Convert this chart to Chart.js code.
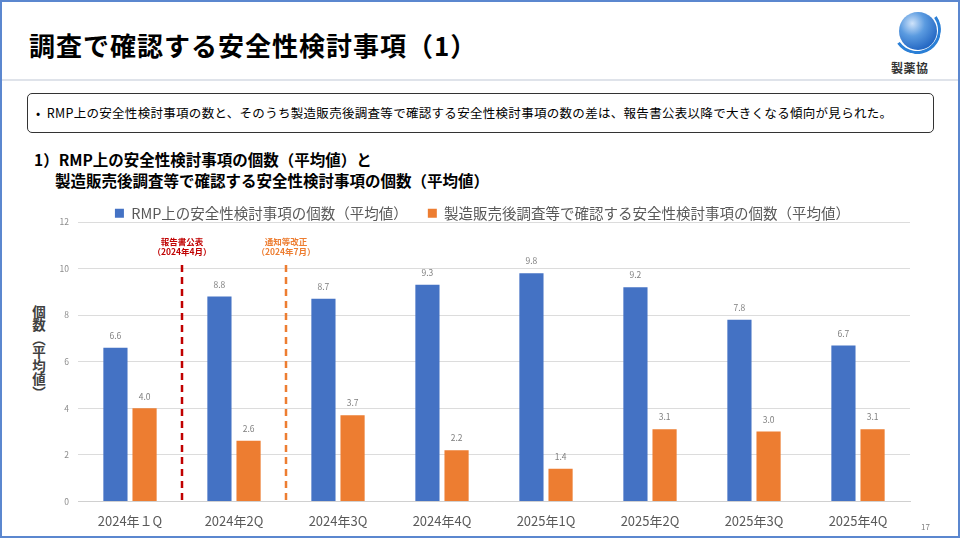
<!DOCTYPE html>
<html lang="ja">
<head>
<meta charset="utf-8">
<script src="https://cdn.jsdelivr.net/npm/chart.js@4.4.1/dist/chart.umd.min.js"></script>
<style>
  html, body { margin: 0; padding: 0; background: #fff; }
  body { width: 960px; height: 538px; position: relative; overflow: hidden; font-family: "Noto Sans CJK JP", sans-serif; color: #000; }
  .frame { position: absolute; left: 0; top: 0; width: 956px; height: 534px; border: 2px solid #5b87cf; pointer-events: none; }
  .title { position: absolute; left: 29px; top: 26px; font-size: 26px; font-weight: bold; letter-spacing: 1px; }
  .sep { position: absolute; left: 2px; right: 2px; top: 79px; height: 2px; background: #dfe3ea; }
  .logo { position: absolute; left: 893px; top: 8px; width: 50px; height: 48px; }
  .sphere { position: absolute; left: 6px; top: 4px; width: 38px; height: 38px; border-radius: 50%;
            background: radial-gradient(circle at 35% 30%, #cfe3fa 0%, #5b9be0 35%, #1f62c0 80%, #1a4f9e 100%); }
  .swoosh { position: absolute; left: 0px; top: -2px; width: 48px; height: 48px; border-radius: 50%;
            border: 3px solid transparent; border-bottom-color: #2a7fd6; border-right-color: #2a7fd6; transform: rotate(10deg); box-sizing: border-box; }
  .logotext { position: absolute; left: 891px; top: 59px; font-size: 12px; font-weight: bold; color: #333; letter-spacing: 0.5px; }
  .box { position: absolute; left: 27px; top: 93px; width: 905px; height: 38px; border: 1.5px solid #333; border-radius: 5px; }
  .box span { position: absolute; left: 8px; top: 9px; font-size: 12.5px; white-space: nowrap; letter-spacing: 0.3px; }
  .heading { position: absolute; font-size: 15.5px; font-weight: bold; white-space: nowrap; line-height: 21px; }
  .yname { position: absolute; left: 31px; top: 305px; writing-mode: vertical-rl; font-size: 13.5px; font-weight: bold; color: #404040; line-height: 16px; }
  .pageno { position: absolute; left: 921px; top: 521px; font-size: 8px; color: #7f7f7f; }
  #wrap { position: absolute; left: 0; top: 186px; width: 960px; height: 363px; }
</style>
</head>
<body>
<div class="title">調査で確認する安全性検討事項（1）</div>
<div class="logo"><div class="sphere"></div><div class="swoosh"></div></div>
<div class="logotext">製薬協</div>
<div class="sep"></div>
<div class="box"><span>•&nbsp;&nbsp;RMP上の安全性検討事項の数と、そのうち製造販売後調査等で確認する安全性検討事項の数の差は、報告書公表以降で大きくなる傾向が見られた。</span></div>
<div class="heading" style="left:34px; top:149px;">1）RMP上の安全性検討事項の個数（平均値）と</div>
<div class="heading" style="left:55px; top:170px;">製造販売後調査等で確認する安全性検討事項の個数（平均値）</div>
<div class="yname">個数（平均値）</div>
<div id="wrap"><canvas id="barChart"></canvas></div>
<div class="pageno">17</div>
<div class="frame"></div>
<script>
// data
const categories = ['2024年１Q', '2024年2Q', '2024年3Q', '2024年4Q', '2025年1Q', '2025年2Q', '2025年3Q', '2025年4Q'];
const rmpLabel = 'RMP上の安全性検討事項の個数（平均値）';
const rmpCounts = [6.6, 8.8, 8.7, 9.3, 9.8, 9.2, 7.8, 6.7];
const surveyLabel = '製造販売後調査等で確認する安全性検討事項の個数（平均値）';
const surveyCounts = [4.0, 2.6, 3.7, 2.2, 1.4, 3.1, 3.0, 3.1];
const yMax = 12;
const yStep = 2;
// vertical event markers, placed between category index and the next one
const markerAfter = [0, 1];
const markerText = [['報告書公表', '（2024年4月）'], ['通知等改正', '（2024年7月）']];
const markerColor = ['#C00000', '#ED7D31'];

const FONT = '"Noto Sans CJK JP", sans-serif';

// value labels above each bar
const barValues = {
    id: 'barValues',
    afterDatasetsDraw(chart) {
        const ctx = chart.ctx;
        ctx.save();
        ctx.font = '8.5px ' + FONT;
        ctx.fillStyle = '#7f7f7f';
        ctx.textAlign = 'center';
        ctx.textBaseline = 'middle';
        chart.data.datasets.forEach((ds, i) => {
            chart.getDatasetMeta(i).data.forEach((bar, j) => {
                ctx.fillText(ds.data[j].toFixed(1), bar.x, bar.y - 12);
            });
        });
        ctx.restore();
    }
};

// dashed lines for the report / notice dates
const eventLines = {
    id: 'eventLines',
    afterDatasetsDraw(chart) {
        const ctx = chart.ctx;
        const x = chart.scales.x, y = chart.scales.y;
        ctx.save();
        markerAfter.forEach((idx, k) => {
            const px = (x.getPixelForValue(idx) + x.getPixelForValue(idx + 1)) / 2;
            ctx.strokeStyle = markerColor[k];
            ctx.lineWidth = 2.5;
            ctx.setLineDash([7, 5]);
            ctx.beginPath();
            ctx.moveTo(px, y.getPixelForValue(10.15));
            ctx.lineTo(px, chart.chartArea.bottom + 2);
            ctx.stroke();
            ctx.setLineDash([]);
            ctx.fillStyle = markerColor[k];
            ctx.font = 'bold 8.5px ' + FONT;
            ctx.textAlign = 'center';
            ctx.textBaseline = 'middle';
            ctx.fillText(markerText[k][0], px, chart.chartArea.top + 20);
            ctx.fillText(markerText[k][1], px, chart.chartArea.top + 30);
        });
        ctx.restore();
    }
};

// pull the plot closer to the legend and nudge the legend right
const legendTweak = {
    id: 'legendTweak',
    beforeInit(chart) {
        const fit = chart.legend.fit;
        chart.legend.fit = function () {
            fit.call(this);
            this.height -= 8.5;
        };
    },
    afterLayout(chart) {
        chart.legend.left += 55;
    }
};

const ctx = document.getElementById('barChart').getContext('2d');
const chart = new Chart(ctx, {
    type: 'bar',
    data: {
        labels: categories,
        datasets: [{
            label: rmpLabel,
            data: rmpCounts,
            backgroundColor: '#4472C4',
            categoryPercentage: 0.56,
            barPercentage: 0.83,
        },
        {
            label: surveyLabel,
            data: surveyCounts,
            backgroundColor: '#ED7D31',
            categoryPercentage: 0.56,
            barPercentage: 0.83,
        }]
    },
    options: {
        responsive: true,
        maintainAspectRatio: false,
        animation: false,
        layout: { padding: { left: 0, right: 50, top: 0, bottom: 8 } },
        plugins: {
            legend: {
                position: 'top',
                labels: {
                    font: { family: FONT, size: 14.5 },
                    color: '#595959',
                    boxWidth: 9,
                    boxHeight: 9,
                    padding: 20,
                }
            },
            tooltip: { enabled: false }
        },
        scales: {
            x: {
                grid: { display: false, drawTicks: false },
                border: { color: '#d0d0d0' },
                ticks: { font: { family: FONT, size: 13 }, color: '#595959', padding: 12 }
            },
            y: {
                min: 0,
                max: yMax,
                ticks: { stepSize: yStep, font: { family: FONT, size: 8.5 }, color: '#8c8c8c', padding: 9 },
                grid: { color: '#dcdcdc', drawTicks: false },
                border: { display: false },
                afterFit(scale) { scale.width = 78; }
            }
        }
    },
    plugins: [barValues, eventLines, legendTweak]
});
</script>
</body>
</html>
